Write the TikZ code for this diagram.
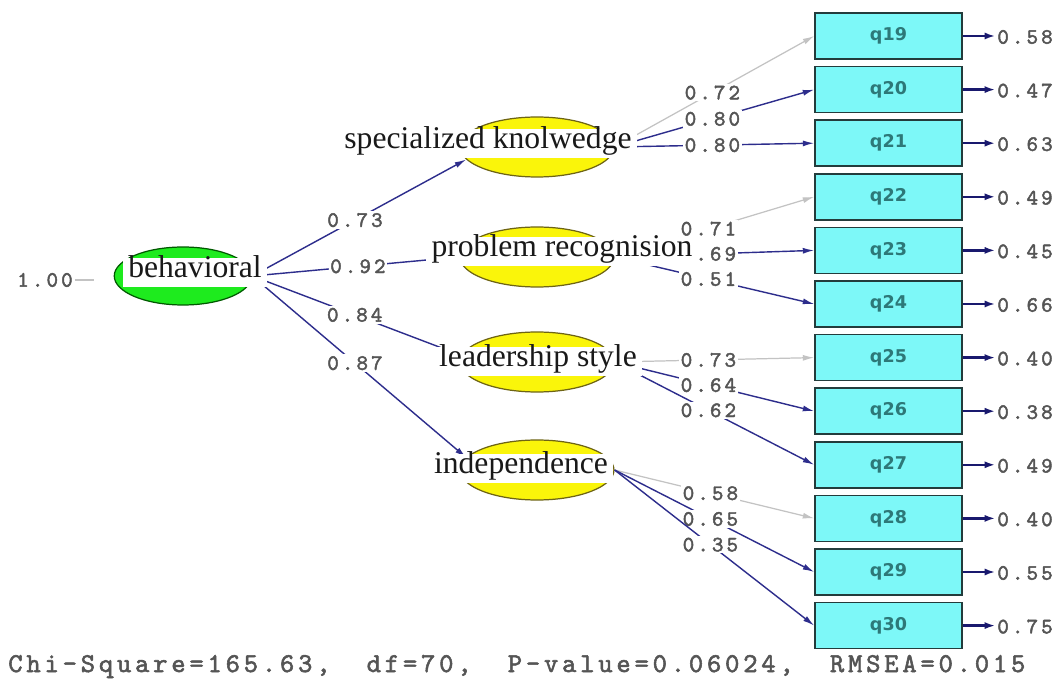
\documentclass[tikz,border=0pt]{standalone}
\usepackage{fontspec}
\setmainfont{Liberation Serif}
\newfontfamily\boxfont{DejaVu Sans}
\newfontfamily\numfont[LetterSpace=14,FakeBold=2]{lmmono10-regular.otf}
\usetikzlibrary{arrows.meta,shapes.geometric}

\definecolor{pathnavy}{RGB}{45,45,140}
\definecolor{headnavy}{RGB}{25,25,110}
\definecolor{fadegray}{RGB}{195,195,195}
\definecolor{numgray}{RGB}{85,85,85}
\definecolor{latgreen}{RGB}{30,235,30}
\definecolor{latyellow}{RGB}{250,245,10}
\definecolor{latedge}{RGB}{110,100,20}
\definecolor{obscyan}{RGB}{125,248,248}
\definecolor{obsedge}{RGB}{35,60,60}
\definecolor{obstext}{RGB}{45,120,120}

\tikzset{
  latent/.style={ellipse, draw=latedge, line width=0.7pt, fill=latyellow,
    minimum width=3.08cm, minimum height=1.2cm, inner sep=0pt},
  lattext/.style={anchor=base, fill=white, text=black!90,
    font=\fontsize{18}{20}\selectfont, inner xsep=3pt, inner ysep=0pt,
    text height=11.5pt, text depth=5pt},
  observed/.style={rectangle, draw=obsedge, line width=0.9pt, fill=obscyan,
    minimum width=2.94cm, minimum height=0.92cm, inner sep=0pt,
    text=obstext, font=\boxfont\bfseries\fontsize{10}{12}\selectfont},
  tip/.style={-{Latex[length=6.5pt,width=3.4pt]}},
  load/.style={draw=pathnavy, line width=0.8pt, tip},
  faint/.style={draw=fadegray, line width=0.7pt, tip},
  errpath/.style={draw=headnavy, line width=1.3pt,
    -{Latex[length=6pt,width=4pt]}, shorten >=1pt},
  lab/.style={fill=white, inner sep=1pt, text=numgray,
    font=\fontsize{12.5}{13}\numfont},
  fitline/.style={text=numgray, inner sep=0pt,
    font=\fontsize{15.5}{17}\numfont}
}

\begin{document}
\begin{tikzpicture}[x=0.02cm, y=-0.02cm]
\useasboundingbox[fill=white] (0,0) rectangle (1063,682);

% latent variables
\node[latent, fill=latgreen, draw=green!35!black, minimum width=2.75cm,
  minimum height=1.16cm] (beh) at (183,276) {};
\node[latent] (spe) at (537,147) {};
\node[latent] (pro) at (537,257) {};
\node[latent] (lea) at (537,362) {};
\node[latent] (ind) at (537,470) {};

% observed indicators
\foreach \n [count=\i from 0] in {19,...,30}
  \node[observed] (q\n) at (888.5,{36+53.6*\i}) {q\n};

% error variances
\foreach \n/\v [count=\i from 0] in {19/0.58,20/0.47,21/0.63,22/0.49,23/0.45,
    24/0.66,25/0.40,26/0.38,27/0.49,28/0.40,29/0.55,30/0.75}
{
  \node[lab, fill=none, inner sep=0pt, anchor=west] (e\n) at (997,{37+53.6*\i}) {\v};
  \draw[errpath] (q\n.east) -- (q\n.east -| e\n.west);
}

% variance of the exogenous factor
\node[lab, fill=none] (var) at (45,280) {1.00};
\coordinate (varend) at (94,280);
\draw[fadegray, line width=0.7pt] (var.east) -- (varend);

% structural paths
\draw[load] (beh.east) -- node[lab, pos=.48] {0.73} (spe.190);
\draw[load] (beh.east) -- node[lab, pos=.51] {0.92} (pro.west);
\draw[load] (beh.east) -- node[lab, pos=.49] {0.84} (lea.175);
\draw[load] (beh.east) -- node[lab, pos=.48] {0.87} (ind.170);

% measurement paths
\draw[faint] (spe.east) -- node[lab, pos=.49] {0.72} (q19.west);
\draw[load]  (spe.east) -- node[lab, pos=.49] {0.80} (q20.west);
\draw[load]  (spe.east) -- node[lab, pos=.49] {0.80} (q21.west);

\draw[faint] (pro.east) -- node[lab, pos=.47] {0.71} (q22.west);
\draw[load]  (pro.east) -- node[lab, pos=.47] {0.69} (q23.west);
\draw[load]  (pro.east) -- node[lab, pos=.47] {0.51} (q24.west);

\draw[faint] (lea.east) -- node[lab, pos=.47] {0.73} (q25.west);
\draw[load]  (lea.east) -- node[lab, pos=.47] {0.64} (q26.west);
\draw[load]  (lea.east) -- node[lab, pos=.47] {0.62} (q27.west);

\draw[faint] (ind.east) -- node[lab, pos=.48] {0.58} (q28.west);
\draw[load]  (ind.east) -- node[lab, pos=.48] {0.65} (q29.west);
\draw[load]  (ind.east) -- node[lab, pos=.48] {0.35} (q30.west);

% factor names
\node[lattext] (behname) at (195,278) {behavioral};
\node[lattext] (spename) at (488,149) {specialized knolwedge};
\node[lattext] (proname) at (562,257) {problem recognision};
\node[lattext] (leaname) at (538,367) {leadership style};
\node[lattext] (indname) at (521,474) {independence};

% fit statistics
\node[fitline, anchor=base west] (fit) at (8,672)
  {Chi-Square=165.63,~~df=70,~~P-value=0.06024,~~RMSEA=0.015};
\end{tikzpicture}
\end{document}
